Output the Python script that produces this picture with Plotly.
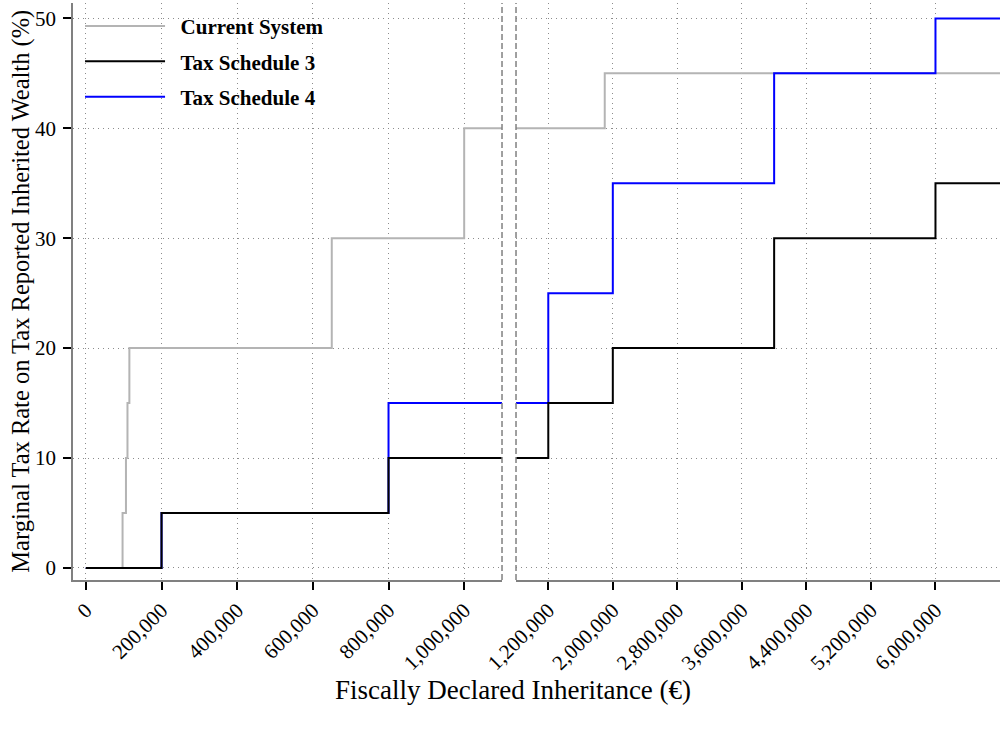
import plotly.graph_objects as go

# ---------------- data ----------------
series_names = ["Current System", "Tax Schedule 3", "Tax Schedule 4"]
series_colors = ["#b4b4b4", "#000000", "#0000ff"]

# left panel (0 - 1.1M)
left_x_current = [0, 97000, 106000, 110000, 115000, 650000, 1000000, 1100000]
left_y_current = [0, 5, 10, 15, 20, 30, 40, 40]
left_x_ts3 = [0, 200000, 800000, 1100000]
left_y_ts3 = [0, 5, 10, 10]
left_x_ts4 = [0, 200000, 800000, 1100000]
left_y_ts4 = [0, 5, 15, 15]

# right panel
right_x_current = [800000, 1900000, 6800000]
right_y_current = [40, 45, 45]
right_x_ts3 = [800000, 1200000, 2000000, 4000000, 6000000, 6800000]
right_y_ts3 = [10, 15, 20, 30, 35, 35]
right_x_ts4 = [800000, 1200000, 2000000, 4000000, 6000000, 6800000]
right_y_ts4 = [15, 25, 35, 45, 50, 50]

left_tickvals = [0, 200000, 400000, 600000, 800000, 1000000]
left_ticktext = ["0", "200,000", "400,000", "600,000", "800,000", "1,000,000"]
right_tickvals = [1200000, 2000000, 2800000, 3600000, 4400000, 5200000, 6000000]
right_ticktext = ["1,200,000", "2,000,000", "2,800,000", "3,600,000",
                  "4,400,000", "5,200,000", "6,000,000"]
y_tickvals = [0, 10, 20, 30, 40, 50]

x_title = "Fiscally Declared Inheritance (€)"
y_title = "Marginal Tax Rate on Tax Reported Inherited Wealth (%)"

FONT = "Liberation Serif"
PAD = "\u00a0\u00a0"

fig = go.Figure()

left_data = [(left_x_current, left_y_current), (left_x_ts3, left_y_ts3), (left_x_ts4, left_y_ts4)]
right_data = [(right_x_current, right_y_current), (right_x_ts3, right_y_ts3), (right_x_ts4, right_y_ts4)]
draw_order = [0, 2, 1]
for i in draw_order:
    lx, ly = left_data[i]
    rx, ry = right_data[i]
    fig.add_trace(go.Scatter(x=lx, y=ly, mode="lines", line=dict(color=series_colors[i], width=2, shape="hv"),
                             name=PAD + series_names[i], legendgroup="g%d" % i, legendrank=i + 1,
                             xaxis="x", yaxis="y"))
    fig.add_trace(go.Scatter(x=rx, y=ry, mode="lines", line=dict(color=series_colors[i], width=2, shape="hv"),
                             name=series_names[i], legendgroup="g%d" % i, showlegend=False,
                             xaxis="x2", yaxis="y2"))

grid = dict(showgrid=True, gridcolor="#8c8c8c", griddash="1px,4px", gridwidth=1)
tickfont = dict(family=FONT, size=21, color="#000")

xcommon = dict(**grid, showline=True, linecolor="#808080", linewidth=1.5,
               ticks="outside", ticklen=8, tickcolor="#000", tickwidth=1.5,
               tickangle=-45, tickfont=tickfont, zeroline=False, automargin=False)

fig.update_layout(
    width=1004, height=731,
    margin=dict(l=73, r=4, t=3, b=151),
    paper_bgcolor="white", plot_bgcolor="white",
    font=dict(family=FONT, size=21, color="#000"),
    showlegend=True,
    legend=dict(x=0.0076, y=0.995, xanchor="left", yanchor="top",
                font=dict(family=FONT, size=21, color="#000", weight="bold"),
                bgcolor="rgba(255,255,255,0)", tracegroupgap=5, itemwidth=80),
    xaxis=dict(domain=[0, 0.4628], range=[-34000, 1100000],
               tickvals=left_tickvals, ticktext=left_ticktext, **xcommon),
    xaxis2=dict(domain=[0.4779, 1], range=[800000, 6800000], anchor="y2",
                tickvals=right_tickvals, ticktext=right_ticktext, **xcommon),
    yaxis=dict(range=[-1.1, 51.4], tickvals=y_tickvals, **grid, showline=True,
               linecolor="#808080", linewidth=1.5, ticks="outside", ticklen=8,
               tickcolor="#000", tickwidth=1.5, tickfont=tickfont, zeroline=False,
               ticklabelstandoff=3, automargin=False),
    yaxis2=dict(range=[-1.1, 51.4], tickvals=y_tickvals, **grid, showline=False,
                showticklabels=False, ticks="", zeroline=False, anchor="x2",
                matches="y", automargin=False),
)

# dashed break lines
fig.add_shape(type="line", xref="x domain", yref="y domain", x0=1, x1=1, y0=0, y1=1,
              line=dict(color="#808080", width=1.5, dash="6px,3px"))
fig.add_shape(type="line", xref="x2 domain", yref="y2 domain", x0=0, x1=0, y0=0, y1=1,
              line=dict(color="#808080", width=1.5, dash="6px,3px"))

fig.add_annotation(text=x_title, xref="paper", yref="paper", x=0.4747, y=-0.19,
                   xanchor="center", yanchor="middle", showarrow=False,
                   font=dict(family=FONT, size=27, color="#000"))
fig.add_annotation(text=y_title, xref="paper", yref="paper", x=-0.057, y=0.5,
                   xanchor="center", yanchor="middle", textangle=-90, showarrow=False,
                   font=dict(family=FONT, size=24.5, color="#000"))

fig.write_html("out.html", config={"displayModeBar": False},
               post_script="document.body.style.margin='0';document.body.style.overflow='hidden';")
